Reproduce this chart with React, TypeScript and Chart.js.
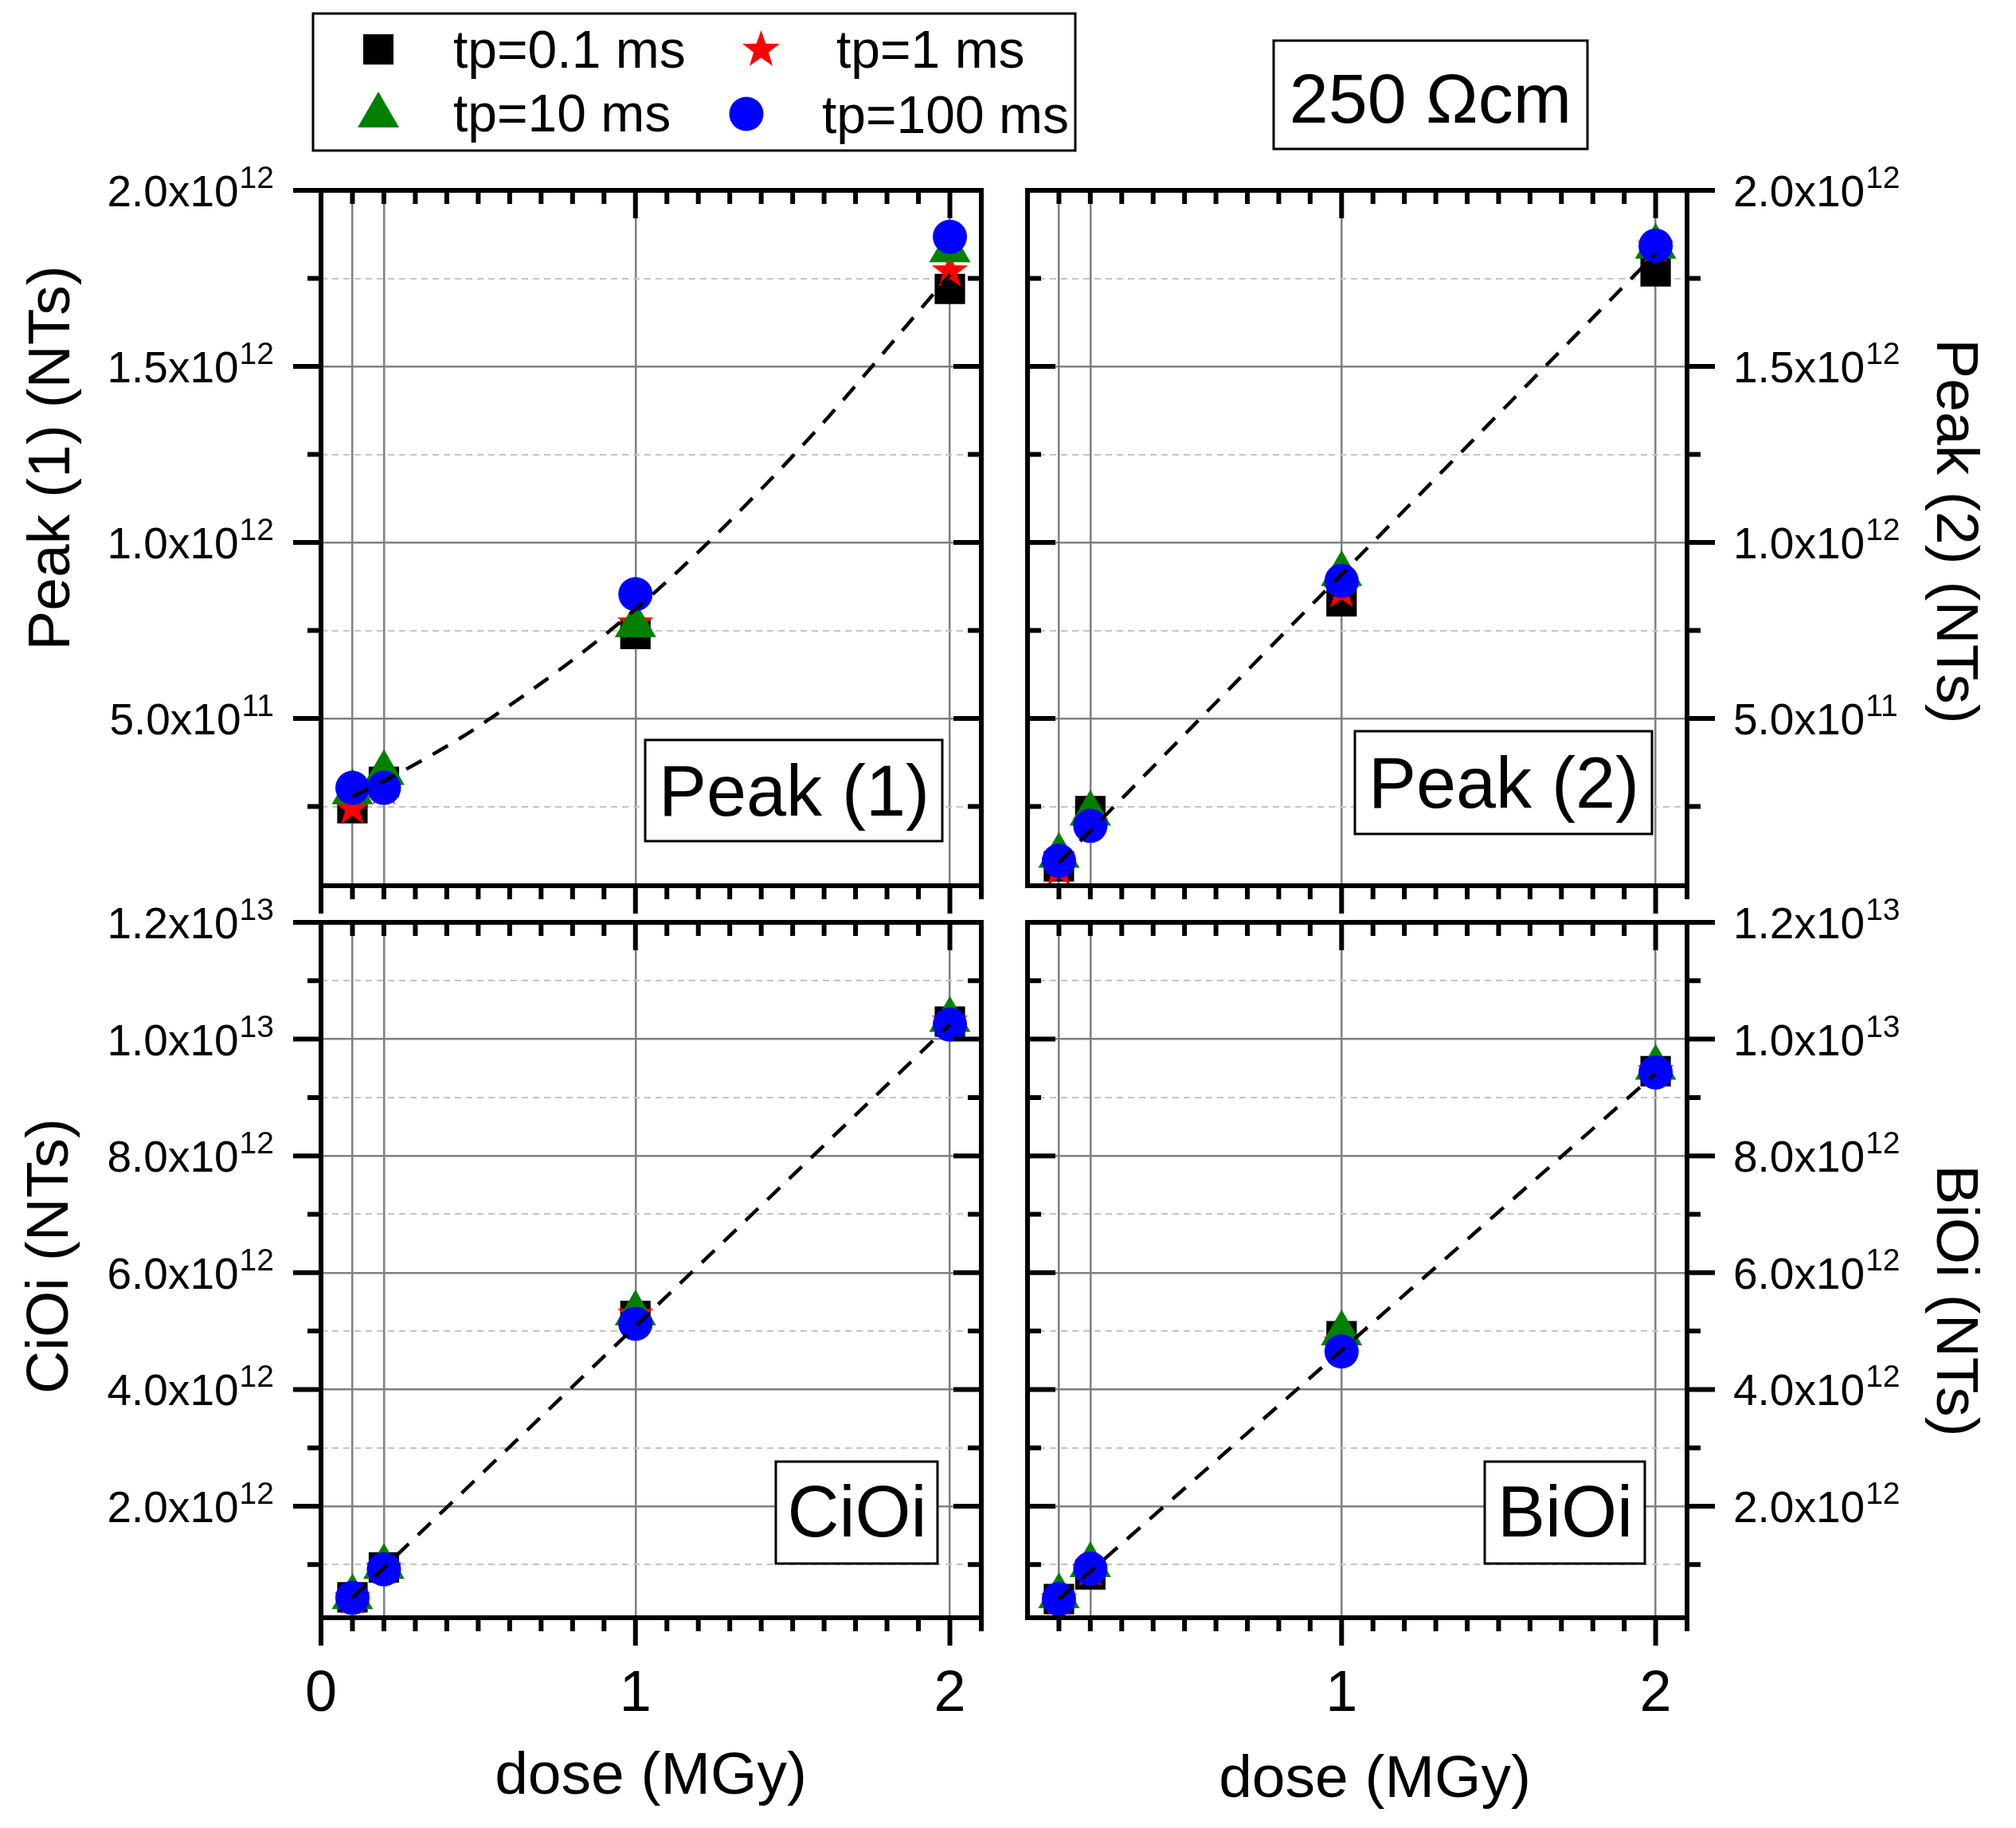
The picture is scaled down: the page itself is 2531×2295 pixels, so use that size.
import { useEffect, useRef } from "react";
import { Chart, registerables } from "chart.js";

Chart.register(...registerables);

const FONT = '"Liberation Sans", Arial, Helvetica, sans-serif';

// dose axis (MGy)
const doses = [0.1, 0.2, 1, 2];
const doseTicks = [0, 0.1, 0.2, 0.3, 0.4, 0.5, 0.6, 0.7, 0.8, 0.9, 1, 1.1, 1.2, 1.3, 1.4, 1.5, 1.6, 1.7, 1.8, 1.9, 2, 2.1];
const doseMajor = [0, 1, 2];
const doseGrid = [0.1, 0.2, 1, 2];

const seriesNames = ["tp=0.1 ms", "tp=1 ms", "tp=10 ms", "tp=100 ms"];

// Peak (1)
const peak1Tp01 = [2.45e11, 3.2e11, 7.4e11, 1.72e12];
const peak1Tp1 = [2.45e11, 3.0e11, 7.7e11, 1.77e12];
const peak1Tp10 = [2.9e11, 3.45e11, 7.65e11, 1.83e12];
const peak1Tp100 = [3.03e11, 3.03e11, 8.53e11, 1.868e12];
const peak1FitDose = [0.1, 0.2, 0.5, 1, 1.5, 2];
const peak1Fit = [2.78e11, 3.22e11, 4.77e11, 8.1e11, 1.245e12, 1.76e12];

// Peak (2)
const peak2Tp01 = [0.8e11, 2.37e11, 8.33e11, 1.77e12];
const peak2Tp1 = [0.7e11, 2.0e11, 8.6e11, 1.84e12];
const peak2Tp10 = [1.1e11, 2.3e11, 9.1e11, 1.84e12];
const peak2Tp100 = [0.96e11, 1.95e11, 8.91e11, 1.843e12];
const peak2FitDose = [0.1, 2];
const peak2Fit = [0.9e11, 1.82e12];

// CiOi
const cioiTp01 = [4.4e11, 9.5e11, 5.26e12, 1.03e13];
const cioiTp1 = [4.2e11, 9.3e11, 5.28e12, 1.03e13];
const cioiTp10 = [4.4e11, 9.6e11, 5.3e12, 1.033e13];
const cioiTp100 = [4.3e11, 9.2e11, 5.125e12, 1.025e13];
const cioiFitDose = [0.1, 2];
const cioiFit = [4.3e11, 1.025e13];

// BiOi
const bioiTp01 = [4.1e11, 8.3e11, 4.91e12, 9.45e12];
const bioiTp1 = [4.0e11, 9.0e11, 4.8e12, 9.45e12];
const bioiTp10 = [4.6e11, 9.9e11, 4.96e12, 9.51e12];
const bioiTp100 = [4.1e11, 9.3e11, 4.65e12, 9.43e12];
const bioiFitDose = [0.1, 2];
const bioiFit = [4.1e11, 9.41e12];

// y ticks
const peakTicks = [2.5e11, 5e11, 7.5e11, 1e12, 1.25e12, 1.5e12, 1.75e12, 2e12];
const peakMajor = [5e11, 1e12, 1.5e12, 2e12];
const defectTicks = [1e12, 2e12, 3e12, 4e12, 5e12, 6e12, 7e12, 8e12, 9e12, 1e13, 1.1e13, 1.2e13];
const defectMajor = [2e12, 4e12, 6e12, 8e12, 1e13, 1.2e13];

const MAJOR = 35;
const MINOR = 17;

type Panel = {
  id: string;
  box: { l: number; r: number; t: number; b: number };
  pad: { l: number; r: number; t: number; b: number };
  side: "left" | "right";
  xLabels: boolean;
  hideZero: boolean;
  yMin: number;
  yMax: number;
  yTicks: number[];
  yMajor: number[];
  series: number[][];
  fitDose: number[];
  fit: number[];
};

const panels: Panel[] = [
  {
    id: "peak1",
    box: { l: 403, r: 1232, t: 239, b: 1112 },
    pad: { l: 380, r: 30, t: 45, b: 50 },
    side: "left", xLabels: false, hideZero: false,
    yMin: 2.5e10, yMax: 2e12, yTicks: peakTicks, yMajor: peakMajor,
    series: [peak1Tp01, peak1Tp1, peak1Tp10, peak1Tp100],
    fitDose: peak1FitDose, fit: peak1Fit,
  },
  {
    id: "peak2",
    box: { l: 1290, r: 2118, t: 239, b: 1112 },
    pad: { l: 30, r: 380, t: 45, b: 50 },
    side: "right", xLabels: false, hideZero: true,
    yMin: 2.5e10, yMax: 2e12, yTicks: peakTicks, yMajor: peakMajor,
    series: [peak2Tp01, peak2Tp1, peak2Tp10, peak2Tp100],
    fitDose: peak2FitDose, fit: peak2Fit,
  },
  {
    id: "cioi",
    box: { l: 403, r: 1232, t: 1158, b: 2031 },
    pad: { l: 380, r: 30, t: 45, b: 150 },
    side: "left", xLabels: true, hideZero: false,
    yMin: 9e10, yMax: 1.2e13, yTicks: defectTicks, yMajor: defectMajor,
    series: [cioiTp01, cioiTp1, cioiTp10, cioiTp100],
    fitDose: cioiFitDose, fit: cioiFit,
  },
  {
    id: "bioi",
    box: { l: 1290, r: 2118, t: 1158, b: 2031 },
    pad: { l: 30, r: 380, t: 45, b: 150 },
    side: "right", xLabels: true, hideZero: true,
    yMin: 9e10, yMax: 1.2e13, yTicks: defectTicks, yMajor: defectMajor,
    series: [bioiTp01, bioiTp1, bioiTp10, bioiTp100],
    fitDose: bioiFitDose, fit: bioiFit,
  },
];

const isIn = (v: number | undefined, arr: number[]) =>
  v !== undefined && arr.some((a) => Math.abs(a - v) <= Math.abs(a) * 1e-6 + 1e-9);

function starPoints(cx: number, cy: number, R: number) {
  const pts: [number, number][] = [];
  for (let i = 0; i < 10; i++) {
    const r = i % 2 === 0 ? R : R * 0.4;
    const a = -Math.PI / 2 + (i * Math.PI) / 5;
    pts.push([cx + r * Math.cos(a), cy + r * Math.sin(a)]);
  }
  return pts;
}

function makeStar(R: number, color: string) {
  const c = document.createElement("canvas");
  const s = Math.ceil(R * 2 + 2);
  c.width = s;
  c.height = s;
  const g = c.getContext("2d")!;
  g.fillStyle = color;
  g.beginPath();
  starPoints(s / 2, s / 2, R).forEach(([x, y], i) => (i ? g.lineTo(x, y) : g.moveTo(x, y)));
  g.closePath();
  g.fill();
  return c;
}

// frame, in/out tick marks and tick labels (with superscript exponents)
function framePlugin(p: Panel) {
  return {
    id: "frame-" + p.id,
    afterDraw(chart: any) {
      const { ctx, chartArea: a } = chart;
      const xs = chart.scales.x;
      const ys = chart.scales.y;
      ctx.save();
      ctx.setLineDash([]);
      ctx.strokeStyle = "#000";
      ctx.lineWidth = 6;
      ctx.strokeRect(a.left, a.top, a.right - a.left, a.bottom - a.top);

      ctx.beginPath();
      for (const v of doseTicks) {
        if (p.hideZero && v === 0) continue;
        const px = xs.getPixelForValue(v);
        const len = isIn(v, doseMajor) ? MAJOR : MINOR;
        ctx.moveTo(px, a.bottom);
        ctx.lineTo(px, a.bottom + len);
        ctx.moveTo(px, a.top);
        ctx.lineTo(px, a.top + len);
      }
      const dir = p.side === "left" ? -1 : 1;
      const outX = p.side === "left" ? a.left : a.right;
      const inX = p.side === "left" ? a.right : a.left;
      for (const v of p.yTicks) {
        const py = ys.getPixelForValue(v);
        const len = isIn(v, p.yMajor) ? MAJOR : MINOR;
        ctx.moveTo(outX, py);
        ctx.lineTo(outX + dir * len, py);
        ctx.moveTo(inX, py);
        ctx.lineTo(inX + dir * len, py);
      }
      ctx.stroke();

      ctx.fillStyle = "#000";
      ctx.textBaseline = "alphabetic";
      for (const v of p.yMajor) {
        const py = ys.getPixelForValue(v);
        const e = Math.floor(Math.log10(v) + 1e-9);
        const main = (v / Math.pow(10, e)).toFixed(1) + "x10";
        const sup = String(e);
        ctx.font = `55px ${FONT}`;
        const mw = ctx.measureText(main).width;
        ctx.font = `39px ${FONT}`;
        const sw = ctx.measureText(sup).width;
        const x0 = p.side === "left" ? a.left - 60 - (mw + sw) : a.right + 58;
        ctx.textAlign = "left";
        ctx.font = `55px ${FONT}`;
        ctx.fillText(main, x0, py + 20);
        ctx.font = `39px ${FONT}`;
        ctx.fillText(sup, x0 + mw + 1, py - 3);
      }

      if (p.xLabels) {
        ctx.font = `72px ${FONT}`;
        ctx.textAlign = "center";
        for (const v of doseMajor) {
          if (p.hideZero && v === 0) continue;
          ctx.fillText(String(v), xs.getPixelForValue(v), a.bottom + 117);
        }
      }
      ctx.restore();
    },
  };
}

function PanelChart({ p }: { p: Panel }) {
  const canvasRef = useRef<HTMLCanvasElement>(null);

  useEffect(() => {
    if (!canvasRef.current) return;
    const star = makeStar(24, "#ff0000");
    const pts = (ys: number[]) => doses.map((x, i) => ({ x, y: ys[i] }));

    const chart = new Chart(canvasRef.current, {
      type: "scatter",
      data: {
        datasets: [
          {
            label: "fit",
            data: p.fitDose.map((x, i) => ({ x, y: p.fit[i] })),
            showLine: true,
            borderColor: "#000",
            borderWidth: 4.5,
            borderDash: [22, 16],
            cubicInterpolationMode: "monotone",
            pointRadius: 0,
            fill: false,
          },
          {
            label: seriesNames[3],
            data: pts(p.series[3]),
            pointStyle: "circle",
            pointRadius: 21.5,
            pointBackgroundColor: "#0000ff",
            pointBorderWidth: 0,
          },
          {
            label: seriesNames[2],
            data: pts(p.series[2]),
            pointStyle: "triangle",
            pointRadius: 30,
            pointBackgroundColor: "#008000",
            pointBorderWidth: 0,
          },
          {
            label: seriesNames[1],
            data: pts(p.series[1]),
            pointStyle: star,
            pointRadius: 24,
            pointBorderWidth: 0,
          },
          {
            label: seriesNames[0],
            data: pts(p.series[0]),
            pointStyle: "rect",
            pointRadius: 27,
            pointBackgroundColor: "#000",
            pointBorderWidth: 0,
          },
        ],
      },
      options: {
        animation: false,
        responsive: true,
        maintainAspectRatio: false,
        events: [],
        layout: { padding: { left: p.pad.l, right: p.pad.r, top: p.pad.t, bottom: p.pad.b } },
        plugins: {
          legend: { display: false },
          tooltip: { enabled: false },
        },
        scales: {
          x: {
            type: "linear",
            position: "bottom",
            min: 0,
            max: 2.1,
            afterBuildTicks: (s: any) => {
              s.ticks = doseTicks.map((value) => ({ value }));
            },
            ticks: { display: false },
            grid: {
              drawTicks: false,
              lineWidth: 2.5,
              color: (c: any) => (isIn(c.tick?.value, doseGrid) ? "#808080" : "rgba(0,0,0,0)"),
            },
            border: { display: false },
          },
          y: {
            type: "linear",
            position: p.side,
            min: p.yMin,
            max: p.yMax,
            afterBuildTicks: (s: any) => {
              s.ticks = p.yTicks.map((value) => ({ value }));
            },
            ticks: { display: false },
            grid: {
              drawTicks: false,
              lineWidth: (c: any) => (isIn(c.tick?.value, p.yMajor) ? 2.5 : 2),
              color: (c: any) => (isIn(c.tick?.value, p.yMajor) ? "#808080" : "#c4c4c4"),
            },
            border: {
              display: false,
              dash: (c: any) => (isIn(c.tick?.value, p.yMajor) ? [] : [8, 6]),
            },
          },
        },
      } as any,
      plugins: [framePlugin(p)],
    });

    return () => chart.destroy();
  }, [p]);

  const w = p.box.r - p.box.l + p.pad.l + p.pad.r;
  const h = p.box.b - p.box.t + p.pad.t + p.pad.b;
  return (
    <div
      style={{
        position: "absolute",
        left: p.box.l - p.pad.l,
        top: p.box.t - p.pad.t,
        width: w,
        height: h,
      }}
    >
      <canvas ref={canvasRef} />
    </div>
  );
}

function starPath(cx: number, cy: number, R: number) {
  return starPoints(cx, cy, R)
    .map(([x, y]) => `${x.toFixed(1)},${y.toFixed(1)}`)
    .join(" ");
}

export default function App() {
  return (
    <div
      style={{
        position: "absolute",
        left: 0,
        top: 0,
        width: 2531,
        height: 2295,
        background: "#fff",
        overflow: "hidden",
      }}
    >
      {panels.map((p) => (
        <PanelChart key={p.id} p={p} />
      ))}
      <svg
        width={2531}
        height={2295}
        style={{ position: "absolute", left: 0, top: 0 }}
        fontFamily={FONT}
      >
        {/* legend */}
        <rect x={393} y={17} width={957} height={172} fill="#fff" stroke="#000" strokeWidth={3} />
        <rect x={456} y={43} width={38} height={38} fill="#000" />
        <polygon points="449,160 501,160 475,115" fill="#008000" />
        <polygon points={starPath(955.5, 62.7, 24.7)} fill="#ff0000" />
        <circle cx={937} cy={143} r={21.5} fill="#0000ff" />
        <text x={569} y={85} fontSize={66}>{seriesNames[0]}</text>
        <text x={1050} y={85} fontSize={66}>{seriesNames[1]}</text>
        <text x={569} y={165} fontSize={66}>{seriesNames[2]}</text>
        <text x={1032} y={167} fontSize={66}>{seriesNames[3]}</text>

        {/* resistivity */}
        <rect x={1599} y={51} width={394} height={136} fill="#fff" stroke="#000" strokeWidth={3} />
        <text x={1796} y={154} fontSize={88} textAnchor="middle">250 Ωcm</text>

        {/* panel labels */}
        <rect x={810} y={929} width={373} height={127} fill="#fff" stroke="#000" strokeWidth={3} />
        <text x={997} y={1024} fontSize={90} textAnchor="middle">Peak (1)</text>
        <rect x={1701} y={918} width={373} height={129} fill="#fff" stroke="#000" strokeWidth={3} />
        <text x={1888} y={1014} fontSize={90} textAnchor="middle">Peak (2)</text>
        <rect x={974} y={1835} width={203} height={128} fill="#fff" stroke="#000" strokeWidth={3} />
        <text x={1076} y={1929} fontSize={90} textAnchor="middle">CiOi</text>
        <rect x={1864} y={1835} width={201} height={128} fill="#fff" stroke="#000" strokeWidth={3} />
        <text x={1965} y={1929} fontSize={90} textAnchor="middle">BiOi</text>

        {/* axis titles */}
        <text transform="translate(87,575) rotate(-90)" fontSize={75} textAnchor="middle">Peak (1) (NTs)</text>
        <text transform="translate(85,1577) rotate(-90)" fontSize={75} textAnchor="middle">CiOi (NTs)</text>
        <text transform="translate(2432,667) rotate(90)" fontSize={75} textAnchor="middle">Peak (2) (NTs)</text>
        <text transform="translate(2432,1633) rotate(90)" fontSize={75} textAnchor="middle">BiOi (NTs)</text>
        <text x={817} y={2252} fontSize={75} textAnchor="middle">dose (MGy)</text>
        <text x={1726} y={2256} fontSize={75} textAnchor="middle">dose (MGy)</text>
      </svg>
    </div>
  );
}
